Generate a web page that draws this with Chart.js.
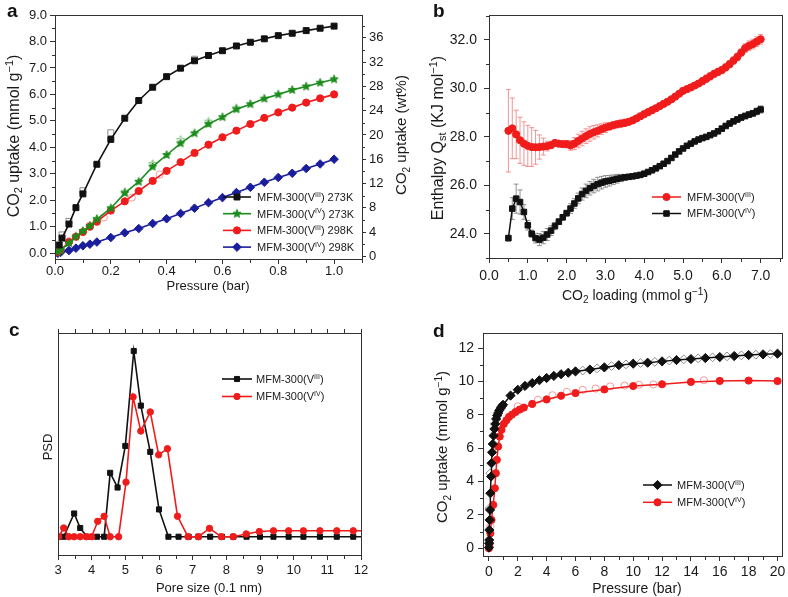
<!DOCTYPE html>
<html><head><meta charset="utf-8">
<script src="https://cdn.jsdelivr.net/npm/chart.js@4.4.1/dist/chart.umd.min.js"></script>
<style>
html,body{margin:0;padding:0;background:#fff}
body{position:relative;width:788px;height:597px;overflow:hidden;font-family:"Liberation Sans",Arial,sans-serif}
canvas{position:absolute}
.pl{position:absolute;font-weight:bold;font-size:19px;line-height:19px;color:#111}
</style></head><body>
<canvas id="ca" width="415" height="300" style="left:0;top:0"></canvas>
<canvas id="cb" width="394" height="312" style="left:394px;top:0"></canvas>
<canvas id="cc" width="394" height="297" style="left:0;top:300px"></canvas>
<canvas id="cd" width="394" height="297" style="left:394px;top:300px"></canvas>
<div class="pl" style="left:7px;top:1px">a</div>
<div class="pl" style="left:433px;top:1px">b</div>
<div class="pl" style="left:9px;top:320px">c</div>
<div class="pl" style="left:433px;top:321px">d</div>
<script>
// ---------- Panel a : CO2 isotherms (mmol/g) ----------
const aP_VIII273 = [0.015,0.025,0.05,0.075,0.1,0.15,0.2,0.25,0.3,0.35,0.4,0.45,0.5,0.55,0.6,0.65,0.7,0.75,0.8,0.85,0.9,0.95,1.0];
const aU_VIII273 = [0.31,0.57,1.1,1.72,2.24,3.36,4.3,5.1,5.77,6.27,6.67,6.99,7.27,7.47,7.65,7.83,7.97,8.1,8.22,8.31,8.41,8.5,8.58];
const aP_common = [0.01,0.02,0.05,0.075,0.1,0.125,0.15,0.2,0.25,0.3,0.35,0.4,0.45,0.5,0.55,0.6,0.65,0.7,0.75,0.8,0.85,0.9,0.95,1.0];
const aU_VIV273 = [0.05,0.12,0.38,0.63,0.84,1.03,1.28,1.70,2.27,2.70,3.27,3.71,4.15,4.53,4.88,5.14,5.44,5.63,5.84,6.00,6.17,6.30,6.44,6.57];
const aU_VIII298 = [0.05,0.12,0.42,0.62,0.80,1.0,1.19,1.61,1.96,2.35,2.73,3.11,3.44,3.79,4.1,4.38,4.63,4.88,5.11,5.32,5.50,5.69,5.85,6.00];
const aU_VIV298 = [0.0,0.03,0.1,0.19,0.28,0.34,0.42,0.59,0.77,0.93,1.12,1.30,1.50,1.70,1.91,2.10,2.29,2.49,2.68,2.86,3.02,3.20,3.37,3.55];
const aDesP_VIII273 = [0.025,0.05,0.1,0.2,0.5];
const aDesU_VIII273 = [0.69,1.2,2.36,4.55,7.33];
const aDesP_VIV273 = [0.15,0.25,0.35,0.45,0.55,0.65];
const aDesU_VIV273 = [1.3,2.32,3.37,4.28,4.97,5.48];
const aDesP_VIII298 = [0.05,0.125,0.175,0.275,0.375];
const aDesU_VIII298 = [0.45,1.05,1.35,2.1,2.97];
const aXTicks = [0,0.2,0.4,0.6,0.8,1.0];
const aYTicks = [0,1,2,3,4,5,6,7,8,9];
const aY2Ticks = [0,4,8,12,16,20,24,28,32,36];
const aLabels = ['MFM-300(V^{III}) 273K','MFM-300(V^{IV}) 273K','MFM-300(V^{III}) 298K','MFM-300(V^{IV}) 298K'];

// ---------- Panel b : isosteric heat ----------
const bLoading = [0.5,0.6,0.7,0.8,0.9,1.0,1.1,1.2,1.3,1.4,1.5,1.6,1.7,1.8,1.9,2.0,2.1,2.2,2.3,2.4,2.5,2.6,2.7,2.8,2.9,3.0,3.1,3.2,3.3,3.4,3.5,3.6,3.7,3.8,3.9,4.0,4.1,4.2,4.3,4.4,4.5,4.6,4.7,4.8,4.9,5.0,5.1,5.2,5.3,5.4,5.5,5.6,5.7,5.8,5.9,6.0,6.1,6.2,6.3,6.4,6.5,6.6,6.7,6.8,6.9,7.0];
const bQ_VIII = [28.25,28.35,28.10,27.86,27.72,27.63,27.58,27.57,27.58,27.60,
 27.62,27.66,27.75,27.72,27.70,27.70,27.65,27.72,27.83,27.93,
 28.03,28.12,28.19,28.25,28.32,28.38,28.43,28.48,28.52,28.55,
 28.58,28.62,28.68,28.76,28.85,28.94,29.02,29.10,29.18,29.27,
 29.36,29.45,29.55,29.66,29.78,29.90,29.97,30.04,30.12,30.20,
 30.30,30.40,30.50,30.60,30.68,30.76,30.87,31.00,31.15,31.30,
 31.48,31.66,31.76,31.83,31.93,32.03];
const bQ_VIII_err = [1.70,1.25,1.00,0.95,0.90,0.85,0.80,0.70,0.50,0.35,
 0.20,0.15,0.10,0.10,0.12,0.15,0.20,0.25,0.28,0.30,
 0.30,0.30,0.28,0.25,0.22,0.20,0.15,0.15,0.15,0.15,
 0.15,0.12,0.12,0.12,0.12,0.12,0.12,0.12,0.12,0.12,
 0.12,0.12,0.12,0.12,0.12,0.12,0.12,0.12,0.12,0.12,
 0.15,0.15,0.15,0.15,0.15,0.15,0.15,0.15,0.15,0.15,
 0.15,0.18,0.20,0.20,0.20,0.20];
const bQ_VIV = [23.82,25.04,25.45,25.31,24.90,24.35,24.00,23.82,23.76,23.84,
 23.97,24.13,24.32,24.50,24.68,24.85,25.04,25.25,25.46,25.64,
 25.77,25.88,25.97,26.05,26.11,26.16,26.19,26.23,26.27,26.30,
 26.33,26.35,26.37,26.40,26.43,26.48,26.55,26.62,26.70,26.79,
 26.89,27.00,27.13,27.27,27.40,27.52,27.63,27.72,27.81,27.89,
 27.95,28.00,28.07,28.14,28.23,28.34,28.45,28.55,28.64,28.72,
 28.80,28.86,28.92,28.97,29.05,29.13];
const bQ_VIV_err = [0.12,0.45,0.60,0.50,0.30,0.20,0.15,0.20,0.25,0.25,
 0.25,0.20,0.15,0.12,0.12,0.12,0.20,0.20,0.22,0.25,
 0.28,0.28,0.28,0.28,0.26,0.24,0.22,0.20,0.18,0.15,
 0.12,0.10,0.08,0.08,0.08,0.08,0.08,0.08,0.08,0.08,
 0.08,0.08,0.08,0.08,0.08,0.08,0.08,0.08,0.08,0.08,
 0.08,0.08,0.08,0.08,0.08,0.10,0.10,0.10,0.10,0.12,
 0.12,0.12,0.12,0.12,0.14,0.15];
const bXTicks = [0,1,2,3,4,5,6,7];
const bYTicks = [24,26,28,30,32];
const bLabels = ['MFM-300(V^{III})','MFM-300(V^{IV})'];

// ---------- Panel c : pore size distribution ----------
const cPore_VIII = [3.02,3.17,3.48,3.66,3.86,4.16,4.37,4.55,4.77,5.0,5.25,5.46,5.74,6.0,6.28,6.58,6.88,7.17,7.52,7.87,8.21,8.6,9.0,9.4,9.85,10.29,10.78,11.28,11.77,12.25];
const cPSD_VIII = [0,0,12.5,4.7,0,0,0,34.4,26.5,48.9,100,70.6,45.7,14.7,0,0,0,0,0,0,0,0,0,0,0,0,0,0,0,0];
const cPore_VIV = [3.02,3.17,3.32,3.48,3.66,3.84,4.0,4.18,4.37,4.55,4.8,5.02,5.23,5.46,5.74,5.99,6.25,6.55,6.86,7.17,7.5,7.85,8.2,8.59,8.98,9.4,9.85,10.29,10.78,11.28,11.77,12.25];
const cPSD_VIV = [0,4.7,0,0,0,0,0,8.3,11.0,0,0,29.4,75.3,56.9,67.2,44.1,47.4,11.0,0,0,4.5,0,0,1.5,2.8,3.2,3.2,3.2,3.2,3.2,3.2,3.2];
const cXTicks = [3,4,5,6,7,8,9,10,11,12];
const cLabels = ['MFM-300(V^{III})','MFM-300(V^{IV})'];

// ---------- Panel d : high-pressure isotherms ----------
const dP_VIII = [0.005,0.01,0.02,0.03,0.05,0.08,0.1,0.15,0.18,0.22,0.27,0.32,0.38,0.44,0.5,0.57,0.64,0.71,0.8,0.89,0.98,1.5,2.0,2.5,3.0,3.5,4.0,4.5,5.0,5.5,6.0,7,8,9,10,11,12,13,14,15,16,17,18,19,20];
const dU_VIII = [0.05,0.3,0.5,1.1,1.7,2.3,3.3,4.3,5.1,5.75,6.25,6.75,7.15,7.45,7.75,7.95,8.1,8.25,8.38,8.5,8.6,9.15,9.5,9.73,9.9,10.07,10.2,10.33,10.43,10.52,10.6,10.71,10.84,10.97,11.06,11.12,11.2,11.28,11.34,11.4,11.46,11.52,11.58,11.62,11.66];
const dP_VIV = [0.0,0.02,0.05,0.1,0.18,0.3,0.41,0.48,0.55,0.64,0.75,0.87,1.03,1.21,1.39,1.6,1.85,2.13,2.42,3.0,4.0,5.0,6.0,8.0,10.0,12.0,14.0,16.0,18.0,20.0];
const dU_VIV = [0.0,0.1,0.3,0.9,1.7,2.6,3.6,4.5,5.3,6.1,6.7,7.1,7.45,7.67,7.87,8.01,8.17,8.31,8.43,8.65,8.92,9.14,9.3,9.52,9.72,9.83,9.97,10.03,10.05,10.02];
const dDesP_VIII = [0.05,0.1,6.5,7.5,8.5,9.5,10.5,11.5,12.5,13.5,14.5,15.5,16.5,17.5,18.5,19.5];
const dDesU_VIII = [2.4,4.5,10.65,10.78,10.92,11.02,11.1,11.17,11.25,11.32,11.38,11.44,11.5,11.56,11.6,11.64];
const dDesP_VIV = [0.1,2.0,3.4,4.4,5.4,6.5,7.4,8.4,9.4,10.4,11.4,14.9];
const dDesU_VIV = [1.3,8.5,8.9,9.17,9.37,9.5,9.57,9.7,9.75,9.8,9.82,10.07];
const dXTicks = [0,2,4,6,8,10,12,14,16,18,20];
const dYTicks = [0,2,4,6,8,10,12];
const dLabels = ['MFM-300(V^{III})','MFM-300(V^{IV})'];

// ---------- helpers ----------
const FAM = '"Liberation Sans", Arial, Helvetica, sans-serif';
Chart.defaults.font.family = FAM;
Chart.defaults.color = '#1a1a1a';
const AX = '#333';
const BLACK = '#111', GREEN = '#1c8c1c', RED = '#f01c1c', BLUE = '#1a1d9c';

function pts(xs, ys){ return xs.map((x,i)=>({x:x, y:ys[i]})); }
function rich(str){
  const parts=[]; const re=/([_^])\{([^}]*)\}/g; let last=0, m;
  while((m=re.exec(str))){ if(m.index>last) parts.push([str.slice(last,m.index),0]); parts.push([m[2], m[1]==='^'?1:-1]); last=re.lastIndex; }
  if(last<str.length) parts.push([str.slice(last),0]);
  return parts;
}
function drawRich(ctx, str, x, y, size, align, rot){
  const parts = rich(str);
  const small = Math.round(size*0.68);
  ctx.save(); ctx.translate(x,y); ctx.rotate(rot||0);
  ctx.fillStyle='#1a1a1a'; ctx.textBaseline='alphabetic'; ctx.textAlign='left';
  let w=0; const ms=parts.map(p=>{ ctx.font=(p[1]?small:size)+'px '+FAM; const mw=ctx.measureText(p[0]).width; w+=mw; return mw; });
  let cx = align==='center' ? -w/2 : 0;
  const base = size*0.36;
  parts.forEach((p,i)=>{ ctx.font=(p[1]?small:size)+'px '+FAM; const dy = p[1]===1 ? -size*0.38 : (p[1]===-1 ? size*0.22 : 0); ctx.fillText(p[0], cx, base+dy); cx+=ms[i]; });
  ctx.restore();
}
function starImg(fill, stroke, R){
  const c=document.createElement('canvas'); const s=Math.ceil(2*R+3); c.width=c.height=s;
  const g=c.getContext('2d'); g.beginPath();
  for(let i=0;i<10;i++){ const r = i%2? R*0.45 : R; const ang=-Math.PI/2+i*Math.PI/5; g.lineTo(s/2+r*Math.cos(ang), s/2+r*Math.sin(ang)); }
  g.closePath(); if(fill){g.fillStyle=fill; g.fill();} if(stroke){g.strokeStyle=stroke; g.lineWidth=0.9; g.stroke();}
  return c;
}
function axis(o){
  return {
    type:'linear', position:o.pos, min:o.min, max:o.max,
    afterBuildTicks: s=>{ s.ticks=o.ticks.map(v=>({value:v})); },
    afterFit: s=>{
      if(o.w!==undefined){ s.width=o.w; s.paddingTop=0; s.paddingBottom=0; }
      if(o.h!==undefined){ s.height=o.h; s.paddingLeft=0; s.paddingRight=0; }
    },
    grid:{display:true, drawOnChartArea:false, drawTicks:o.drawTicks!==false, tickLength:o.tl||5, color:AX, tickColor:AX, lineWidth:1},
    border:{display:true, color:AX, width:1},
    ticks:{display:o.labels!==false, padding:(o.pad===undefined?3:o.pad), font:{size:o.fs||12}, color:'#1a1a1a', callback:o.fmt||(v=>String(v)), maxRotation:0, autoSkip:false}
  };
}
function deco(cfg){
  return {
    id:'deco'+Math.random().toString(36).slice(2),
    beforeDatasetsDraw(chart){
      const ctx=chart.ctx;
      (cfg.err||[]).forEach(e=>{
        const meta=chart.getDatasetMeta(e.ds); const xs=chart.scales[meta.xAxisID], ys=chart.scales[meta.yAxisID];
        ctx.save(); ctx.strokeStyle=e.color; ctx.lineWidth=0.8;
        chart.data.datasets[e.ds].data.forEach((d,i)=>{
          const px=xs.getPixelForValue(d.x), t=ys.getPixelForValue(d.y+e.vals[i]), b=ys.getPixelForValue(d.y-e.vals[i]);
          ctx.beginPath(); ctx.moveTo(px,t); ctx.lineTo(px,b);
          ctx.moveTo(px-e.cap,t); ctx.lineTo(px+e.cap,t); ctx.moveTo(px-e.cap,b); ctx.lineTo(px+e.cap,b); ctx.stroke();
        });
        ctx.restore();
      });
    },
    afterDraw(chart){
      const ctx=chart.ctx, a=chart.chartArea;
      ctx.save();
      ctx.strokeStyle=AX; ctx.lineWidth=1;
      ctx.strokeRect(Math.round(a.left)+0.5, Math.round(a.top)+0.5, Math.round(a.right)-Math.round(a.left), Math.round(a.bottom)-Math.round(a.top));
      (cfg.minor||[]).forEach(m=>{
        const s=chart.scales[m.axis]; ctx.beginPath();
        for(let k=0; ; k++){
          const v=m.from+k*m.step; if(v>m.to+1e-9) break;
          const p=Math.round(s.getPixelForValue(v))+0.5;
          if(s.isHorizontal()){
            const y0 = m.top ? Math.round(a.top) : Math.round(a.bottom)+1; const dir = m.top?-1:1;
            ctx.moveTo(p,y0); ctx.lineTo(p,y0+dir*m.len);
          } else {
            const right = s.position==='right';
            const x0 = right ? Math.round(a.right)+1 : Math.round(a.left); const dir = right?1:-1;
            ctx.moveTo(x0,p); ctx.lineTo(x0+dir*m.len,p);
          }
        }
        ctx.stroke();
      });
      (cfg.titles||[]).forEach(t=> drawRich(ctx, t.text, t.x, t.y, t.size, 'center', t.rot||0));
      if(cfg.legend){
        const L=cfg.legend;
        L.items.forEach((di,k)=>{
          const ds=chart.data.datasets[di]; const y=L.rows[k];
          ctx.strokeStyle=ds.borderColor; ctx.lineWidth=ds.borderWidth;
          ctx.beginPath(); ctx.moveTo(L.x1,y); ctx.lineTo(L.x2,y); ctx.stroke();
          ctx.fillStyle=ds.pointBackgroundColor; ctx.strokeStyle=ds.pointBorderColor; ctx.lineWidth=1;
          Chart.helpers.drawPoint(ctx,{pointStyle:ds.pointStyle, radius:ds.pointRadius, rotation:0, borderWidth:1}, (L.x1+L.x2)/2, y);
          drawRich(ctx, ds.label, L.tx, y, L.size, 'left', 0);
        });
      }
      ctx.restore();
    }
  };
}
function series(label, data, color, style, r, lw, extra){
  return Object.assign({label:label, data:data, borderColor:color, backgroundColor:color, borderWidth:lw,
    pointStyle:style, pointRadius:r, pointHoverRadius:r, pointBackgroundColor:color, pointBorderColor:color, pointBorderWidth:1,
    tension:0, fill:false, showLine:true}, extra||{});
}
function openSeries(data, color, style, r){
  return {label:'', data:data, borderColor:color, backgroundColor:'rgba(0,0,0,0)', borderWidth:1, showLine:false,
    pointStyle:style, pointRadius:r, pointHoverRadius:r, pointBackgroundColor:'rgba(255,255,255,0)', pointBorderColor:color, pointBorderWidth:1};
}
const common = {responsive:false, animation:false, devicePixelRatio:1, events:[],
  plugins:{legend:{display:false}, tooltip:{enabled:false}}};

// ---------- Panel a ----------
const greenStar = starImg(GREEN, GREEN, 4.3);
const greenStarOpen = starImg(null, '#7cc07c', 4.3);
new Chart(document.getElementById('ca'), {
  type:'line',
  data:{datasets:[
    series(aLabels[0], pts(aP_VIII273,aU_VIII273), BLACK, 'rect', 4.2, 1.6),
    series(aLabels[1], pts(aP_common,aU_VIV273), GREEN, greenStar, 4.3, 1.6),
    series(aLabels[2], pts(aP_common,aU_VIII298), RED, 'circle', 3.6, 1.6),
    series(aLabels[3], pts(aP_common,aU_VIV298), BLUE, 'rectRot', 4.3, 1.6),
    openSeries(pts(aDesP_VIII273,aDesU_VIII273), '#8a8a8a', 'rect', 4.2),
    openSeries(pts(aDesP_VIV273,aDesU_VIV273), '#7cc07c', greenStarOpen, 4.3),
    openSeries(pts(aDesP_VIII298,aDesU_VIII298), '#f49a9a', 'circle', 3.6)
  ]},
  options:Object.assign({}, common, {
    layout:{padding:{top:15,left:0,right:0,bottom:0}},
    scales:{
      x: axis({pos:'bottom', min:0, max:1.1, ticks:aXTicks, fmt:v=>v.toFixed(1), h:41, tl:5, pad:0, fs:13}),
      y: axis({pos:'left', min:-0.22, max:9, ticks:aYTicks, fmt:v=>v.toFixed(1), w:55, tl:5, pad:3, fs:13}),
      y2: axis({pos:'right', min:-0.43, max:39.75, ticks:aY2Ticks, w:53, tl:4, pad:3, fs:13})
    }
  }),
  plugins:[deco({
    minor:[{axis:'x',from:0.1,to:1.1,step:0.2,len:3},{axis:'y',from:0.5,to:8.5,step:1,len:3},{axis:'y2',from:2,to:38,step:4,len:2}],
    titles:[
      {text:'CO_{2} uptake (mmol g^{−1})', x:13, y:136, size:16, rot:-Math.PI/2},
      {text:'CO_{2} uptake (wt%)', x:401, y:135, size:15, rot:-Math.PI/2},
      {text:'Pressure (bar)', x:208, y:285, size:13}
    ],
    legend:{rows:[197,213.7,230.4,247.1], x1:223, x2:251, tx:257, size:11, items:[0,1,2,3]}
  })]
});

// ---------- Panel b ----------
new Chart(document.getElementById('cb'), {
  type:'line',
  data:{datasets:[
    series(bLabels[0], pts(bLoading,bQ_VIII), RED, 'circle', 3.6, 1.5),
    series(bLabels[1], pts(bLoading,bQ_VIV), BLACK, 'rect', 3.9, 1.5)
  ]},
  options:Object.assign({}, common, {
    layout:{padding:{top:15,left:0,right:6,bottom:0}},
    scales:{
      x: axis({pos:'bottom', min:0, max:7.55, ticks:bXTicks, fmt:v=>v.toFixed(1), h:54, tl:5, pad:5, fs:14}),
      y: axis({pos:'left', min:23, max:33.03, ticks:bYTicks, fmt:v=>v.toFixed(1), w:95, tl:5, pad:7, fs:14})
    }
  }),
  plugins:[deco({
    err:[{ds:0, vals:bQ_VIII_err, color:'#f07878', cap:2.5},{ds:1, vals:bQ_VIV_err, color:'#777', cap:2.5}],
    minor:[{axis:'x',from:0.5,to:7.5,step:1,len:3},{axis:'y',from:23,to:33,step:2,len:3}],
    titles:[
      {text:'Enthalpy Q_{st} (KJ mol^{−1})', x:43, y:138, size:16, rot:-Math.PI/2},
      {text:'CO_{2} loading (mmol g^{−1})', x:241, y:295, size:14}
    ],
    legend:{rows:[197,213.5], x1:258, x2:287, tx:293, size:11, items:[0,1]}
  })]
});

// ---------- Panel c ----------
new Chart(document.getElementById('cc'), {
  type:'line',
  data:{datasets:[
    series(cLabels[1], pts(cPore_VIV,cPSD_VIV), RED, 'circle', 3.2, 1.6, {order:0}),
    series(cLabels[0], pts(cPore_VIII,cPSD_VIII), BLACK, 'rect', 3.6, 1.6, {order:1})
  ]},
  options:Object.assign({}, common, {
    layout:{padding:{top:33,left:0,right:33,bottom:0}},
    scales:{
      x: axis({pos:'bottom', min:3, max:12, ticks:cXTicks, h:42, tl:5, pad:3, fs:13}),
      y: axis({pos:'left', min:-9.84, max:109.7, ticks:[0], labels:false, drawTicks:false, w:58})
    }
  }),
  plugins:[deco({
    minor:[{axis:'x',from:3.5,to:11.5,step:1,len:3},{axis:'x',from:3,to:12,step:0.5,len:4,top:true}],
    titles:[
      {text:'PSD', x:47, y:147, size:13, rot:-Math.PI/2},
      {text:'Pore size (0.1 nm)', x:209, y:287, size:13}
    ],
    legend:{rows:[79,96.5], x1:222, x2:252, tx:256, size:11, items:[1,0]}
  })]
});

// ---------- Panel d ----------
new Chart(document.getElementById('cd'), {
  type:'line',
  data:{datasets:[
    series(dLabels[0], pts(dP_VIII,dU_VIII), BLACK, 'rectRot', 4.6, 1.5),
    series(dLabels[1], pts(dP_VIV,dU_VIV), RED, 'circle', 3.6, 1.5),
    openSeries(pts(dDesP_VIII,dDesU_VIII), '#8a8a8a', 'rectRot', 4.4),
    openSeries(pts(dDesP_VIV,dDesU_VIV), '#f49a9a', 'circle', 3.6)
  ]},
  options:Object.assign({}, common, {
    layout:{padding:{top:33,left:0,right:2,bottom:0}},
    scales:{
      x: axis({pos:'bottom', min:-0.41, max:20.34, ticks:dXTicks, h:41, tl:5, pad:3, fs:14}),
      y: axis({pos:'left', min:-0.46, max:12.9, ticks:dYTicks, w:89, tl:5, pad:4, fs:14})
    }
  }),
  plugins:[deco({
    minor:[{axis:'x',from:1,to:19,step:2,len:3},{axis:'y',from:1,to:11,step:2,len:3}],
    titles:[
      {text:'CO_{2} uptake (mmol g^{−1})', x:48, y:147, size:15, rot:-Math.PI/2},
      {text:'Pressure (bar)', x:243, y:288, size:14}
    ],
    legend:{rows:[185,202.3], x1:249, x2:278, tx:283, size:11, items:[0,1]}
  })]
});
</script>
</body></html>
